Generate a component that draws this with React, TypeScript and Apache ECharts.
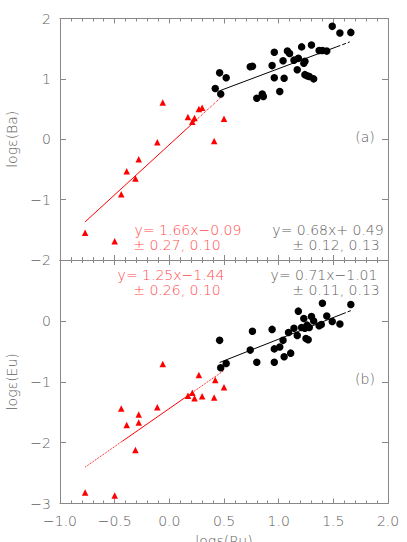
import React, { useEffect, useRef } from "react";
import * as echarts from "echarts";

// ---- data ----
const redBaX = [-0.77, -0.5, -0.44, -0.39, -0.31, -0.28, -0.11, -0.06, 0.17, 0.21, 0.23, 0.27, 0.3, 0.41, 0.5];
const redBaY = [-1.55, -1.69, -0.91, -0.53, -0.65, -0.33, -0.05, 0.61, 0.37, 0.29, 0.35, 0.5, 0.52, -0.03, 0.34];

const blackBaX = [0.42, 0.47, 0.46, 0.52, 0.74, 0.76, 0.8, 0.85, 0.86, 0.94, 0.96, 0.96, 1.01, 1.04, 1.05, 1.08, 1.1, 1.14, 1.17, 1.18, 1.21, 1.23, 1.24, 1.24, 1.26, 1.28, 1.3, 1.32, 1.37, 1.4, 1.44, 1.49, 1.56, 1.66];
const blackBaY = [0.84, 0.75, 1.1, 1.02, 1.2, 1.21, 0.68, 0.75, 0.71, 1.22, 1.44, 1.02, 0.79, 1.3, 1.01, 1.46, 1.42, 1.31, 1.15, 1.34, 1.53, 1.26, 1.29, 1.07, 1.05, 1.04, 1.56, 1.0, 1.47, 1.47, 1.46, 1.87, 1.76, 1.77];

const redEuX = [-0.77, -0.5, -0.44, -0.39, -0.28, -0.28, -0.31, -0.11, -0.06, 0.17, 0.21, 0.23, 0.27, 0.3, 0.41, 0.42, 0.5];
const redEuY = [-2.82, -2.87, -1.44, -1.71, -1.54, -1.67, -2.12, -1.42, -0.71, -1.23, -1.18, -1.27, -0.89, -1.24, -1.26, -0.97, -1.09];

const blackEuX = [0.46, 0.47, 0.52, 0.74, 0.76, 0.8, 0.94, 0.96, 0.96, 1.01, 1.04, 1.05, 1.09, 1.11, 1.14, 1.17, 1.18, 1.21, 1.23, 1.24, 1.25, 1.26, 1.27, 1.28, 1.3, 1.32, 1.37, 1.39, 1.4, 1.44, 1.49, 1.56, 1.66];
const blackEuY = [-0.32, -0.77, -0.7, -0.48, -0.17, -0.68, -0.14, -0.46, -0.68, -0.43, -0.32, -0.59, -0.19, -0.53, -0.12, -0.24, 0.16, -0.11, 0.04, -0.12, -0.29, -0.07, -0.31, -0.11, 0.07, 0.0, -0.08, -0.06, 0.29, 0.08, -0.01, -0.05, 0.27];

// fits: slope, intercept, and x break points with segment styles
const fitNames = ["redBa", "blackBa", "redEu", "blackEu"];
const fitSlopes = [1.66, 0.68, 1.25, 0.71];
const fitIntercepts = [-0.09, 0.49, -1.44, -1.01];
const fitBreaks = [
  [-0.77, 0.25, 0.48],
  [0.46, 1.53, 1.65],
  [-0.77, -0.43, 0.18, 0.5],
  [0.46, 1.58, 1.66],
];
const fitStyles = [
  ["solid", "dotted"],
  ["solid", "dashed"],
  ["dotted", "solid", "dotted"],
  ["solid", "dashed"],
];

const fitLabelsMain = ["y= 1.66x\u22120.09", "y= 0.68x+ 0.49", "y= 1.25x\u22121.44", "y= 0.71x\u22121.01"];
const fitLabelsErr = ["\u00b1 0.27, 0.10", "\u00b1 0.12, 0.13", "\u00b1 0.26, 0.10", "\u00b1 0.11, 0.13"];
const panelTags = ["(a)", "(b)"];
const yNames = ["log\u03b5(Ba)", "log\u03b5(Eu)"];
const xName = "log\u03b5(Ru)";

const FONT = "DejaVu Sans";
const GREY = "#606060";
const RED_TXT = "#ff4a4a";
const AXIS = "#888";

function zip(xs: number[], ys: number[]) {
  return xs.map((x, i) => [x, ys[i]]);
}

const fmtX = (v: number) => (v < 0 ? "\u2212" : "") + Math.abs(v).toFixed(1);
const fmtY = (v: number) => (v < 0 ? "\u2212" : "") + Math.abs(v).toString();

export default function App() {
  const ref = useRef<HTMLDivElement>(null);
  useEffect(() => {
    if (!ref.current) return;
    const chart = echarts.init(ref.current, null, { renderer: "svg" });

    const grids = [
      { left: 60, top: 18.5, width: 328, height: 241.5, outerBoundsMode: "none" },
      { left: 60, top: 260, width: 328, height: 243.5, outerBoundsMode: "none" },
    ];

    const xBase = (gridIndex: number, position: string, showLabel: boolean) => ({
      type: "value",
      gridIndex,
      position,
      min: -1,
      max: 2,
      interval: 0.5,
      name: showLabel ? xName : "",
      nameLocation: "middle",
      nameGap: 30,
      nameTextStyle: { fontFamily: FONT, fontSize: 14, color: GREY, fontWeight: 200 },
      axisLine: { show: true, onZero: false, lineStyle: { color: AXIS, width: 1 } },
      axisTick: { show: true, inside: true, length: 5, lineStyle: { color: AXIS } },
      minorTick: { show: true, splitNumber: 5, length: 3, lineStyle: { color: AXIS } },
      splitLine: { show: false },
      axisLabel: {
        show: showLabel,
        formatter: fmtX,
        fontFamily: FONT,
        fontSize: 14,
        fontWeight: 200,
        color: GREY,
        margin: 10,
      },
    });

    const yBase = (gridIndex: number, position: string, min: number, max: number, showLabel: boolean, name: string, hideMax: boolean) => ({
      type: "value",
      gridIndex,
      position,
      min,
      max,
      interval: 1,
      name,
      nameLocation: "middle",
      nameGap: 38,
      nameTextStyle: { fontFamily: FONT, fontSize: 14, color: GREY, fontWeight: 200 },
      axisLine: { show: true, onZero: false, lineStyle: { color: AXIS, width: 1 } },
      axisTick: { show: true, inside: true, length: 6, lineStyle: { color: AXIS } },
      splitLine: { show: false },
      axisLabel: {
        show: showLabel,
        showMaxLabel: hideMax ? false : true,
        formatter: fmtY,
        fontFamily: FONT,
        fontSize: 14,
        fontWeight: 200,
        color: GREY,
        margin: 9,
      },
    });

    const fitSeries: any[] = [];
    fitNames.forEach((nm, k) => {
      const br = fitBreaks[k];
      const axisIdx = k < 2 ? 0 : 2;
      const color = nm.startsWith("red") ? "#ff0000" : "#000000";
      for (let s = 0; s < br.length - 1; s++) {
        const xa = br[s];
        const xb = br[s + 1];
        fitSeries.push({
          type: "line",
          xAxisIndex: axisIdx,
          yAxisIndex: axisIdx,
          data: [
            [xa, fitSlopes[k] * xa + fitIntercepts[k]],
            [xb, fitSlopes[k] * xb + fitIntercepts[k]],
          ],
          symbol: "none",
          silent: true,
          z: 3,
          lineStyle: { color, width: 1, type: fitStyles[k][s] },
        });
      }
    });

    const scatter = (xs: number[], ys: number[], idx: number, red: boolean) => ({
      type: "scatter",
      xAxisIndex: idx,
      yAxisIndex: idx,
      data: zip(xs, ys),
      symbol: red ? "triangle" : "circle",
      symbolSize: red ? 6.5 : 7.5,
      itemStyle: { color: red ? "#ff0000" : "#000000", opacity: 1 },
      z: 4,
    });

    const txt = (text: string, x: number, y: number, color: string) => ({
      type: "text",
      x,
      y,
      style: {
        text,
        fill: color,
        font: `200 14px "${FONT}"`,
        lineHeight: 13,
        align: "center",
        verticalAlign: "middle",
      },
      z: 10,
    });

    chart.setOption({
      animation: false,
      backgroundColor: "#ffffff",
      grid: grids,
      xAxis: [
        xBase(0, "bottom", false),
        xBase(0, "top", false),
        xBase(1, "bottom", true),
        xBase(1, "top", false),
      ],
      yAxis: [
        yBase(0, "left", -2, 2, true, yNames[0], false),
        yBase(0, "right", -2, 2, false, "", false),
        yBase(1, "left", -3, 1, true, yNames[1], true),
        yBase(1, "right", -3, 1, false, "", true),
      ],
      series: [
        ...fitSeries,
        scatter(redBaX, redBaY, 0, true),
        scatter(blackBaX, blackBaY, 0, false),
        scatter(redEuX, redEuY, 2, true),
        scatter(blackEuX, blackEuY, 2, false),
      ],
      graphic: [
        txt(fitLabelsMain[0], 188, 230, RED_TXT),
        txt(fitLabelsErr[0], 177, 245, RED_TXT),
        txt(fitLabelsMain[1], 328, 230, GREY),
        txt(fitLabelsErr[1], 336, 244.5, GREY),
        txt(fitLabelsMain[2], 171, 275, RED_TXT),
        txt(fitLabelsErr[2], 177, 290, RED_TXT),
        txt(fitLabelsMain[3], 324, 275, GREY),
        txt(fitLabelsErr[3], 336, 290, GREY),
        txt(panelTags[0], 365, 137, GREY),
        txt(panelTags[1], 365, 379, GREY),
      ],
    });
    return () => chart.dispose();
  }, []);
  return (
    <div
      ref={ref}
      style={{ position: "absolute", left: 0, top: 0, width: 407, height: 542, background: "#fff" }}
    />
  );
}
